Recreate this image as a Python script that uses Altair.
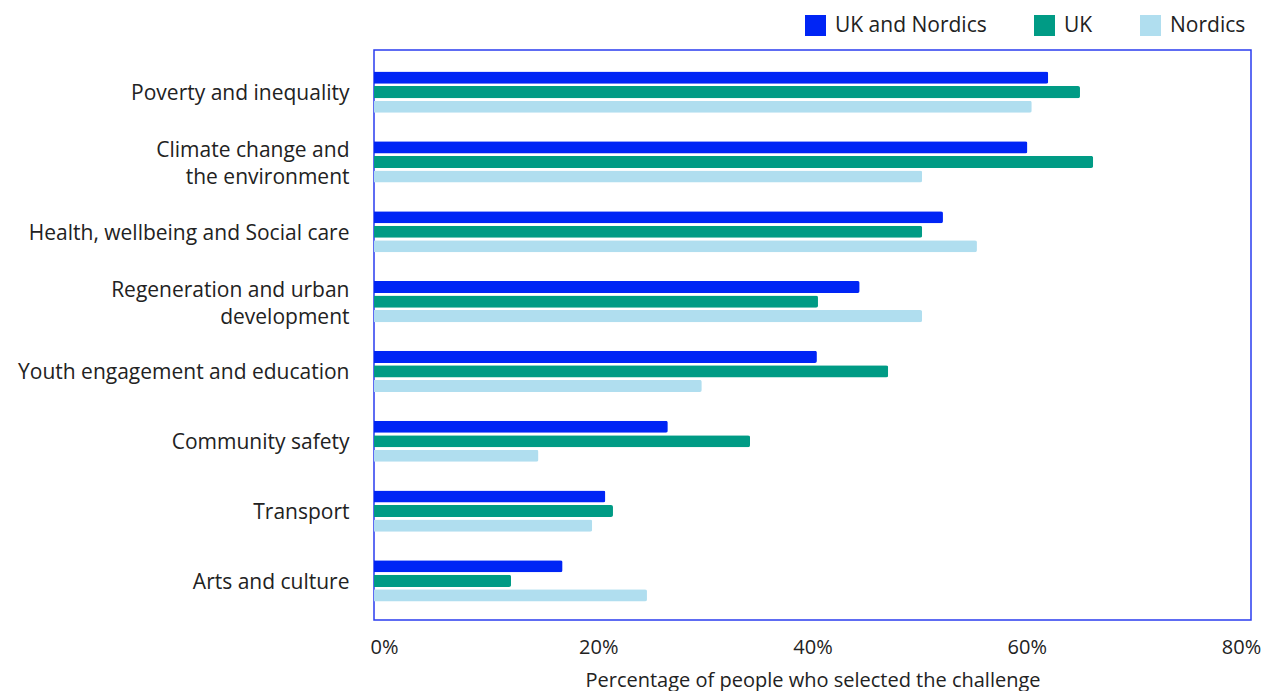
import altair as alt
import pandas as pd

categories = [
    "Poverty and inequality",
    "Climate change and|the environment",
    "Health, wellbeing and Social care",
    "Regeneration and urban|development",
    "Youth engagement and education",
    "Community safety",
    "Transport",
    "Arts and culture",
]
series = ["UK and Nordics", "UK", "Nordics"]
uk_and_nordics = [61.5, 59.6, 51.9, 44.3, 40.4, 26.8, 21.1, 17.2]
uk = [64.4, 65.6, 50.0, 40.5, 46.9, 34.3, 21.8, 12.5]
nordics = [60.0, 50.0, 55.0, 50.0, 29.9, 15.0, 19.9, 24.9]
colors = ["#0025F5", "#009B85", "#B0DEEF"]
x_ticks = [0, 20, 40, 60, 80]

rows = []
for s, vals in zip(series, [uk_and_nordics, uk, nordics]):
    for c, v in zip(categories, vals):
        rows.append({"category": c, "series": s, "value": v})
df = pd.DataFrame(rows)

FONT = "Open Sans"
TXT = "#222222"
FS = 21

chart = (
    alt.Chart(df)
    .mark_bar(cornerRadiusEnd=2)
    .encode(
        x=alt.X(
            "value:Q",
            scale=alt.Scale(domain=[0, 80], nice=False),
            axis=alt.Axis(
                values=x_ticks,
                labelExpr="datum.value + '%'",
                labelOffset=alt.ExprRef("(40 - datum.value) * 0.25"),
                title="Percentage of people who selected the challenge",
                grid=False,
                ticks=False,
                domain=False,
                labelPadding=17,
                titlePadding=13,
                labelFontSize=FS - 1,
                titleFontSize=FS - 1,
                labelFont=FONT,
                titleFont=FONT,
                titleFontWeight="normal",
                labelColor=TXT,
                titleColor=TXT,
                labelFlush=False,
            ),
        ),
        y=alt.Y(
            "category:N",
            sort=categories,
            scale=alt.Scale(paddingInner=0.41, paddingOuter=0.28, range=[2, 571]),
            axis=alt.Axis(
                title=None,
                labelExpr="split(datum.label, '|')",
                labelOffset=alt.ExprRef(
                    "indexof(datum.label, '|') >= 0 ? -11 : 2"
                ),
                ticks=False,
                domain=False,
                grid=False,
                labelPadding=25,
                labelFontSize=FS,
                labelFont=FONT,
                labelColor=TXT,
                labelLimit=400,
                labelLineHeight=27,
            ),
        ),
        yOffset=alt.YOffset(
            "series:N", sort=series, scale=alt.Scale(paddingInner=0.17)
        ),
        color=alt.Color(
            "series:N",
            sort=series,
            scale=alt.Scale(domain=series, range=colors),
            legend=alt.Legend(
                title=None,
                orient="none",
                direction="horizontal",
                legendX=431,
                legendY=-35,
                symbolType="square",
                symbolSize=441,
                symbolStrokeWidth=0,
                symbolOpacity=1,
                labelFontSize=FS,
                labelFont=FONT,
                labelColor=TXT,
                labelOffset=9,
                columnPadding=47,
                labelLimit=300,
            ),
        ),
    )
    .properties(width=877, height=570)
    .configure_view(stroke="#2A3DF0", strokeWidth=1.5)
    .properties(
        autosize=alt.AutoSizeParams(type="none"),
        padding={"left": 374, "top": 50, "right": 21, "bottom": 71},
    )
)

chart.save("out.html", embed_options={"renderer": "svg", "actions": False})
